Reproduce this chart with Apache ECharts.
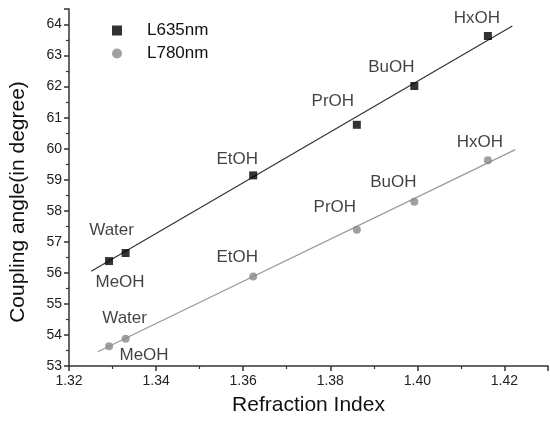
<!DOCTYPE html>
<html>
<head>
<meta charset="utf-8">
<script src="https://cdn.jsdelivr.net/npm/echarts@6/dist/echarts.min.js"></script>
<style>html,body{margin:0;padding:0;background:#fff}#c{width:550px;height:426px}</style>
</head>
<body>
<div id="c"></div>
<script>
// ---- data ----
var solvents = ['MeOH', 'Water', 'EtOH', 'PrOH', 'BuOH', 'HxOH'];
var refractionIndex = [1.3292, 1.3330, 1.3623, 1.3861, 1.3993, 1.4162];
var angle635 = [56.38, 56.64, 59.14, 60.77, 62.02, 63.63];
var angle780 = [53.64, 53.88, 55.88, 57.39, 58.29, 59.63];
var fit635X = [1.3251, 1.4218];
var fit635Y = [56.05, 63.95];
var fit780X = [1.3266, 1.4225];
var fit780Y = [53.46, 59.97];
var xTicks = [1.32, 1.34, 1.36, 1.38, 1.40, 1.42];
var yTicks = [53, 54, 55, 56, 57, 58, 59, 60, 61, 62, 63, 64];

// ---- label placement (styling, pixel offsets) ----
var off635 = [[11, 21], [-14, -23], [-16, -16], [-24, -23], [-23, -19], [-11, -18]];
var off780 = [[35, 9], [-1, -20], [-16, -19], [-22, -22], [-21, -19], [-8, -18]];

var FONT = '"Liberation Sans", Arial, sans-serif';

function pts(ys, offs) {
  return refractionIndex.map(function (x, i) {
    return {
      value: [x, ys[i]],
      name: solvents[i],
      label: { show: true, position: 'inside', offset: offs[i], formatter: solvents[i] }
    };
  });
}
function line(xs, ys) { return xs.map(function (x, i) { return [x, ys[i]]; }); }

var chart = echarts.init(document.getElementById('c'), null, { renderer: 'canvas' });
chart.setOption({
  animation: false,
  backgroundColor: '#fff',
  textStyle: { fontFamily: FONT },
  grid: { left: 65, right: 2, top: 9, bottom: 60 },
  legend: {
    data: [{ name: 'L635nm', icon: 'rect' }, { name: 'L780nm', icon: 'circle' }],
    orient: 'vertical', left: 107, top: 17,
    itemWidth: 10, itemHeight: 10, itemGap: 6,
    textStyle: { fontSize: 17, color: '#111', padding: [0, 0, 0, 20], fontFamily: FONT }
  },
  xAxis: {
    type: 'value', min: 1.32, max: 1.43, interval: 0.02,
    name: 'Refraction Index', nameLocation: 'middle', nameGap: 29,
    nameTextStyle: { fontSize: 21, color: '#111', fontFamily: FONT },
    axisLine: { lineStyle: { color: '#333', width: 1.5 } },
    axisTick: { show: true, length: 5, lineStyle: { color: '#333', width: 1.5 } },
    minorTick: { show: true, splitNumber: 2, length: 3, lineStyle: { color: '#333', width: 1.2 } },
    splitLine: { show: false },
    axisLabel: {
      fontSize: 14, color: '#222', margin: 8, showMaxLabel: false,
      formatter: function (v) {
        for (var i = 0; i < xTicks.length; i++) if (Math.abs(xTicks[i] - v) < 1e-6) return xTicks[i].toFixed(2);
        return '';
      }
    }
  },
  yAxis: {
    type: 'value', min: 53, max: 64.5, interval: 1,
    name: 'Coupling angle(in degree)', nameLocation: 'middle', nameGap: 40, nameRotate: 90,
    nameTextStyle: { fontSize: 21, color: '#111', fontFamily: FONT, padding: [0, 29, 0, 0] },
    axisLine: { lineStyle: { color: '#333', width: 1.5 } },
    axisTick: { show: true, length: 5, lineStyle: { color: '#333', width: 1.5 } },
    minorTick: { show: true, splitNumber: 2, length: 3, lineStyle: { color: '#333', width: 1.2 } },
    splitLine: { show: false },
    axisLabel: {
      fontSize: 14, color: '#222', margin: 7, showMaxLabel: false,
      formatter: function (v) {
        for (var i = 0; i < yTicks.length; i++) if (Math.abs(yTicks[i] - v) < 1e-6) return String(yTicks[i]);
        return '';
      }
    }
  },
  series: [
    {
      name: 'fit635', type: 'line', data: line(fit635X, fit635Y), showSymbol: false,
      lineStyle: { color: '#333', width: 1.2 }, silent: true, z: 1
    },
    {
      name: 'fit780', type: 'line', data: line(fit780X, fit780Y), showSymbol: false,
      lineStyle: { color: '#999', width: 1.2 }, silent: true, z: 1
    },
    {
      name: 'L635nm', type: 'scatter', symbol: 'rect', symbolSize: 8,
      itemStyle: { color: '#000' },
      label: { color: '#111', fontSize: 17, fontFamily: FONT },
      data: pts(angle635, off635), z: 3
    },
    {
      name: 'L780nm', type: 'scatter', symbol: 'circle', symbolSize: 8,
      itemStyle: { color: '#888' },
      label: { color: '#111', fontSize: 17, fontFamily: FONT },
      data: pts(angle780, off780), z: 3
    }
  ]
});
</script>
</body>
</html>
